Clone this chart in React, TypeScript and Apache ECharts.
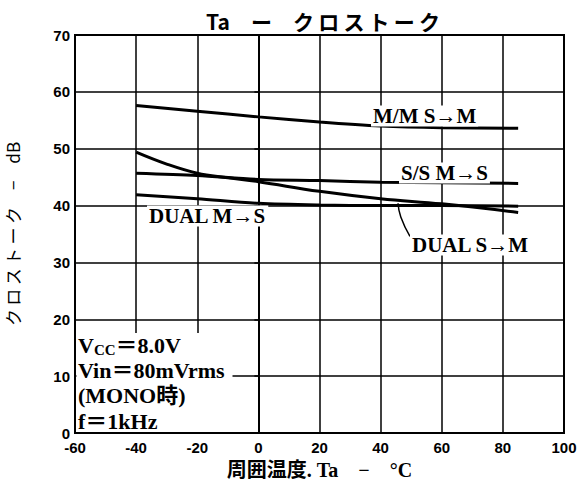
import React, { useEffect, useRef } from "react";
import * as echarts from "echarts";

// ---- data ----
const xTickMin = -60;
const xTickMax = 100;
const xTickStep = 20;
const yTickMin = 0;
const yTickMax = 70;
const yTickStep = 10;

const temps = [-40, -20, 0, 20, 40, 60, 85];
const mmSM = [57.6, 56.6, 55.6, 54.7, 54.0, 53.7, 53.6];
const ssMS = [45.7, 45.3, 44.6, 44.4, 44.1, 44.0, 43.9];
const dualMS = [41.9, 41.2, 40.4, 40.1, 40.0, 40.0, 39.9];
const dualSMTemps = [-40, -30, -20, -10, 0, 20, 40, 60, 85];
const dualSM = [49.4, 47.3, 45.7, 44.9, 44.2, 42.5, 41.2, 40.3, 38.8];
const leaderX = [45.7, 46.6, 49.6];
const leaderY = [40.4, 38.0, 34.6];

const titleText = "Ta\u3000ー\u3000ク\u2009ロ\u2009ス\u2009ト\u2009ー\u2009ク";
const xName = "周囲温度. Ta\u3000−\u3000°C";
const yName = "ク\u2009ロ\u2009ス\u2009ト\u2009ー\u2009ク\u3000−\u3000dB";
const seriesNames = ["M/M S→M", "S/S M→S", "DUAL M→S", "DUAL S→M"];
const condLines = ["Vin＝80mVrms", "(MONO時)", "f＝1kHz"];

const SERIF = "'Liberation Serif', 'Noto Sans CJK JP', serif";
const SANS = "'Liberation Sans', Arial, sans-serif";
const CJK = "'Noto Sans CJK JP', sans-serif";

const pairs = (xs: number[], ys: number[]) => xs.map((x, i) => [x, ys[i]]);

const lineSeries = (name: string, data: number[][], smooth: number | boolean) => ({
  name,
  type: "line",
  data,
  smooth,
  symbol: "none",
  lineStyle: { color: "#000", width: 3 },
  z: 5,
});

const labelStyle = {
  fontFamily: SERIF,
  fontWeight: "bold",
  fontSize: 21,
  fill: "#000",
  backgroundColor: "#fff",
  padding: [0, 2],
  verticalAlign: "middle",
};

export default function App() {
  const ref = useRef<HTMLDivElement>(null);
  useEffect(() => {
    if (!ref.current) return;
    const chart = echarts.init(ref.current, null, { renderer: "svg" });
    const option: any = {
      animation: false,
      backgroundColor: "#fff",
      grid: {
        left: 75,
        right: 13,
        top: 35,
        bottom: 47,
        containLabel: false,
        outerBoundsMode: "none",
        show: true,
        borderColor: "#000",
        borderWidth: 2,
      },
      xAxis: {
        type: "value",
        min: xTickMin,
        max: xTickMax,
        interval: xTickStep,
        name: xName,
        nameLocation: "middle",
        nameGap: 27,
        nameTextStyle: { fontFamily: SERIF, fontWeight: "bold", fontSize: 20, color: "#000" },
        axisLine: { show: true, lineStyle: { color: "#000", width: 2 } },
        axisTick: { show: false },
        splitLine: { show: true, lineStyle: { color: "#000", width: 1.5 } },
        axisLabel: {
          color: "#000",
          fontFamily: SANS,
          fontWeight: "bold",
          fontSize: 15,
          margin: 7,
        },
      },
      yAxis: {
        type: "value",
        min: yTickMin,
        max: yTickMax,
        interval: yTickStep,
        name: yName,
        nameLocation: "middle",
        nameGap: 54,
        nameRotate: 90,
        nameTextStyle: { fontFamily: CJK, fontSize: 17, color: "#000" },
        axisLine: { show: true, lineStyle: { color: "#000", width: 2 } },
        axisTick: { show: true, length: 4, lineStyle: { color: "#000", width: 1.5 } },
        splitLine: { show: true, lineStyle: { color: "#000", width: 1.5 } },
        axisLabel: {
          color: "#000",
          fontFamily: SANS,
          fontWeight: "bold",
          fontSize: 15,
          margin: 5,
        },
      },
      series: [
        lineSeries(seriesNames[0], pairs(temps, mmSM), 0.3),
        lineSeries(seriesNames[1], pairs(temps, ssMS), 0.3),
        lineSeries(seriesNames[2], pairs(temps, dualMS), 0.3),
        lineSeries(seriesNames[3], pairs(dualSMTemps, dualSM), 0.4),
        {
          type: "line",
          data: pairs(leaderX, leaderY),
          smooth: 0.5,
          symbol: "none",
          lineStyle: { color: "#000", width: 1.5 },
          z: 4,
        },
      ],
      graphic: [
        {
          type: "text",
          x: 323,
          y: 21,
          z: 100,
          style: {
            text: titleText,
            fontFamily: CJK,
            fontWeight: "bold",
            fontSize: 21,
            fill: "#000",
            align: "center",
            verticalAlign: "middle",
          },
        },
        { type: "text", x: 371, y: 116, z: 100, style: { ...labelStyle, text: seriesNames[0] } },
        { type: "text", x: 399, y: 173, z: 100, style: { ...labelStyle, text: seriesNames[1] } },
        { type: "text", x: 147, y: 216, z: 100, style: { ...labelStyle, text: seriesNames[2] } },
        { type: "text", x: 410, y: 245, z: 100, style: { ...labelStyle, text: seriesNames[3] } },
        {
          type: "rect",
          z: 90,
          shape: { x: 76.5, y: 333, width: 156, height: 99 },
          style: { fill: "#fff" },
        },
        {
          type: "text",
          x: 78,
          y: 345,
          z: 100,
          style: {
            text: "{v|V}{s|CC}{v|＝8.0V}",
            verticalAlign: "middle",
            rich: {
              v: { fontFamily: SERIF, fontWeight: "bold", fontSize: 22, lineHeight: 24, fill: "#000" },
              s: {
                fontFamily: SERIF,
                fontWeight: "bold",
                fontSize: 15,
                lineHeight: 12,
                verticalAlign: "bottom",
                fill: "#000",
              },
            },
          },
        },
        ...condLines.map((t, i) => ({
          type: "text",
          x: 78,
          y: 370.5 + i * 25.3,
          z: 100,
          style: {
            text: t,
            fontFamily: SERIF,
            fontWeight: "bold",
            fontSize: 22,
            fill: "#000",
            verticalAlign: "middle",
          },
        })),
      ],
    };
    chart.setOption(option);
    return () => chart.dispose();
  }, []);
  return (
    <div
      ref={ref}
      style={{ position: "fixed", left: 0, top: 0, width: 577, height: 480, background: "#fff" }}
    />
  );
}
